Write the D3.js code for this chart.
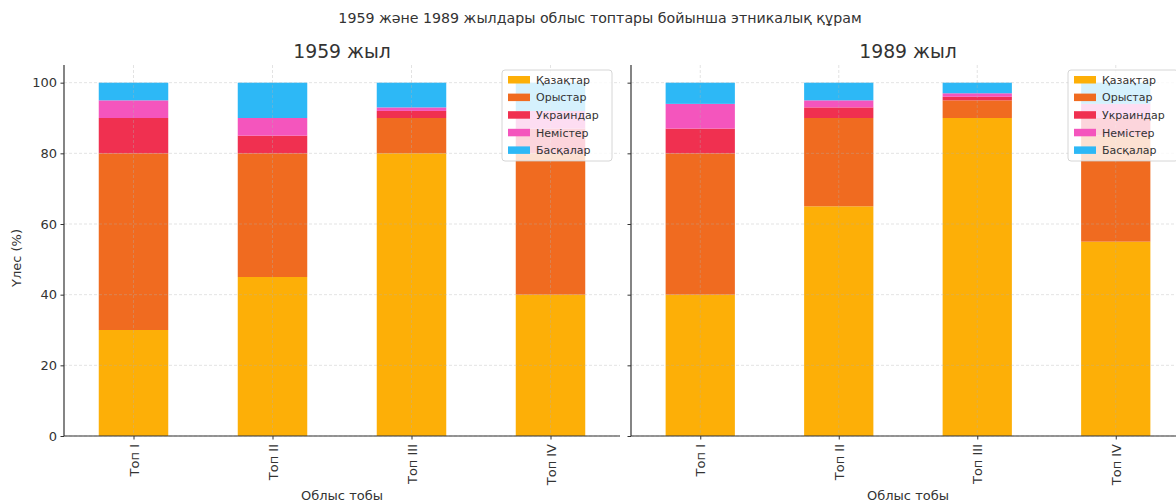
<!DOCTYPE html>
<html><head><meta charset="utf-8">
<script src="https://cdn.jsdelivr.net/npm/d3@7"></script>
<style>body{margin:0;background:#fff}svg{display:block;font-family:"DejaVu Sans",sans-serif}</style>
</head><body><svg id="c" width="1176" height="504"></svg>
<script>
const categories = ["Топ I","Топ II","Топ III","Топ IV"];
const groups = ["Қазақтар","Орыстар","Украиндар","Немістер","Басқалар"];
const colors = ["#fdaf07","#f06b20","#f03050","#f455bd","#2db8f6"];
// 1959
const kaz1959 = [30,45,80,40];
const rus1959 = [50,35,10,40];
const ukr1959 = [10,5,2,7];
const ger1959 = [5,5,1,5];
const oth1959 = [5,10,7,8];
// 1989
const kaz1989 = [40,65,90,55];
const rus1989 = [40,25,5,30];
const ukr1989 = [7,3,1,5];
const ger1989 = [7,2,1,4];
const oth1989 = [6,5,3,6];
const yTicks = [0,20,40,60,80,100];
const mainTitle = "1959 және 1989 жылдары облыс топтары бойынша этникалық құрам";
const panelTitles = ["1959 жыл","1989 жыл"];
const xLabel = "Облыс тобы", yLabel = "Үлес (%)";

const svg = d3.select("#c");
svg.append("text").attr("x",600).attr("y",23).attr("text-anchor","middle")
  .attr("font-size",14.2).attr("fill","#333").text(mainTitle);

const panels = [
  {x0:64, x1:620, series:[kaz1959,rus1959,ukr1959,ger1959,oth1959], title:panelTitles[0], legX:502},
  {x0:631, x1:1185, series:[kaz1989,rus1989,ukr1989,ger1989,oth1989], title:panelTitles[1], legX:1068}
];
const y = d3.scaleLinear().domain([0,105]).range([436,65]);

panels.forEach((p,pi)=>{
  const x = d3.scaleLinear().domain([-0.5,3.5]).range([p.x0,p.x1]);
  const bw = x(0.25)-x(0);
  const g = svg.append("g");
  const rows = categories.map((c,i)=>{const r={cat:c,i:i}; groups.forEach((gn,k)=>r[gn]=p.series[k][i]); return r;});
  const stacked = d3.stack().keys(groups)(rows);
  stacked.forEach((layer,k)=>{
    g.selectAll(null).data(layer).enter().append("rect")
      .attr("x",d=>x(d.data.i)-bw).attr("width",bw*2)
      .attr("y",d=>y(d[1])).attr("height",d=>y(d[0])-y(d[1]))
      .attr("fill",colors[k]);
  });
  // grid
  yTicks.forEach(t=>{
    g.append("line").attr("x1",p.x0).attr("x2",p.x1).attr("y1",y(t)).attr("y2",y(t))
      .attr("stroke","#b0b0b0").attr("stroke-opacity",0.45).attr("stroke-dasharray","3,2").attr("stroke-width",0.8);
  });
  categories.forEach((c,i)=>{
    g.append("line").attr("x1",x(i)).attr("x2",x(i)).attr("y1",65).attr("y2",436)
      .attr("stroke","#b0b0b0").attr("stroke-opacity",0.45).attr("stroke-dasharray","3,2").attr("stroke-width",0.8);
  });
  // axes
  const ax = d3.axisLeft(y).tickValues(yTicks).tickSize(3.5).tickPadding(3.5).tickFormat(pi===0?d3.format("d"):"");
  const ga = g.append("g").attr("transform",`translate(${p.x0},0)`).call(ax);
  ga.select(".domain").attr("stroke","#333").attr("stroke-width",1.2).attr("d",`M-0,436V65`);
  ga.selectAll(".tick line").attr("stroke","#333");
  ga.selectAll(".tick text").attr("font-size",13).attr("fill","#333").attr("font-family","DejaVu Sans");
  const bx = d3.axisBottom(x).tickValues([0,1,2,3]).tickSize(3.5).tickPadding(4).tickFormat(i=>categories[i]);
  const gb = g.append("g").attr("transform","translate(0,436)").call(bx);
  gb.select(".domain").attr("stroke","#333").attr("stroke-width",1.2).attr("d",`M${p.x0},0H${p.x1}`);
  gb.selectAll(".tick line").attr("stroke","#333");
  gb.selectAll(".tick text").attr("font-size",13).attr("fill","#333").attr("font-family","DejaVu Sans")
    .attr("transform","rotate(-90)").attr("text-anchor","end").attr("dy","0.35em").attr("x",-8).attr("y",0);
  // titles
  const cx = (p.x0+p.x1)/2;
  g.append("text").attr("x",cx).attr("y",58).attr("text-anchor","middle").attr("font-size",18.8).attr("fill","#333").text(p.title);
  g.append("text").attr("x",cx).attr("y",500).attr("text-anchor","middle").attr("font-size",13).attr("fill","#333").text(xLabel);
  // legend
  const lg = g.append("g").attr("transform",`translate(${p.legX},70)`);
  lg.append("rect").attr("width",110).attr("height",91).attr("rx",3).attr("fill","#fff").attr("fill-opacity",0.8)
    .attr("stroke","#ccc").attr("stroke-width",0.8);
  groups.forEach((gn,k)=>{
    lg.append("rect").attr("x",6).attr("y",6+k*17.6).attr("width",22).attr("height",7.5).attr("fill",colors[k]);
    lg.append("text").attr("x",34).attr("y",10+k*17.6).attr("dy","0.35em").attr("font-size",11).attr("fill","#333").text(gn);
  });
});
svg.append("text").attr("transform","translate(21,258) rotate(-90)").attr("text-anchor","middle")
  .attr("font-size",13).attr("fill","#333").text(yLabel);
</script></body></html>
